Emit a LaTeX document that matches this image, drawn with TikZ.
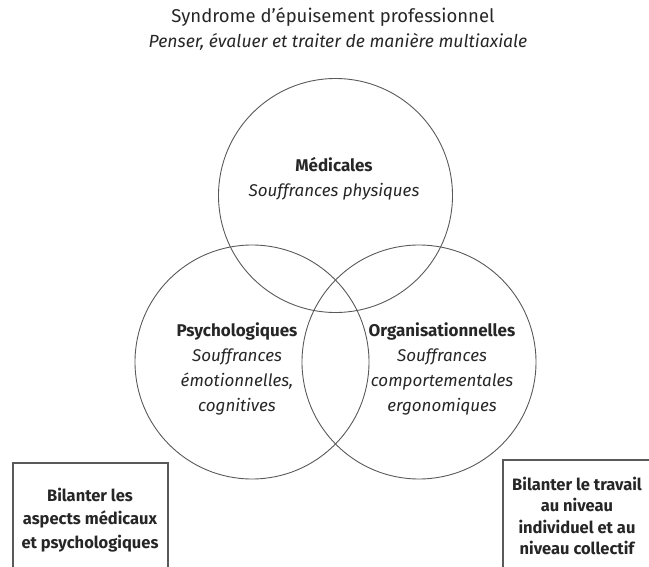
\documentclass[tikz,border=0pt]{standalone}
\usepackage{fontspec}
\setmainfont{Fira Sans}
\usetikzlibrary{calc}

\definecolor{inkgray}{gray}{0.15}
\definecolor{linegray}{gray}{0.35}

\tikzset{
  axe/.style={circle, draw=linegray, line width=0.9pt, minimum size=234pt, inner sep=0pt},
  axetext/.style={align=center, text=inkgray, font=\fontsize{17}{25}\selectfont},
  frame/.style={draw=linegray, line width=1.1pt},
  bilan/.style={align=center, text=inkgray, font=\bfseries\fontsize{16.5}{23.5}\selectfont}
}

\begin{document}
\begin{tikzpicture}[x=1pt, y=-1pt]
\useasboundingbox (0,0) rectangle (649,567);
\clip (0,0) rectangle (649,567);
% title
\node[text=inkgray, font=\fontsize{18.5}{20}\selectfont] (title) at (333,17) {Syndrome d’épuisement professionnel};
\node[text=inkgray, font=\itshape\fontsize{17.6}{20}\selectfont] (subtitle) at (338,42) {Penser, évaluer et traiter de manière multiaxiale};
% the three circles
\node[axe] (med) at (335.5,195.5) {};
\node[axe] (psy) at (252,362) {};
\node[axe] (org) at (419,362) {};
\node[axetext] (medtext) at (334,179) {\bfseries Médicales\\\itshape Souffrances physiques};
\node[axetext] (psytext) at (237,369) {\bfseries Psychologiques\\\itshape Souffrances\\\itshape émotionnelles,\\\itshape cognitives};
\node[axetext] (orgtext) at (442,369) {\bfseries Organisationnelles\\\itshape Souffrances\\\itshape comportementales\\\itshape ergonomiques};
% boxes at the bottom
\draw[frame] (13,600) |- (168,463) -- (168,600);
\node[bilan] (bilanpsy) at (90,520) {Bilanter les\\aspects médicaux\\et psychologiques};
\draw[frame] (503,600) |- (700,460);
\node[bilan, font=\bfseries\fontsize{16.5}{21.5}\selectfont] (bilanorg) at (577,516) {Bilanter le travail\\au niveau\\individuel et au\\niveau collectif};
\end{tikzpicture}
\end{document}
